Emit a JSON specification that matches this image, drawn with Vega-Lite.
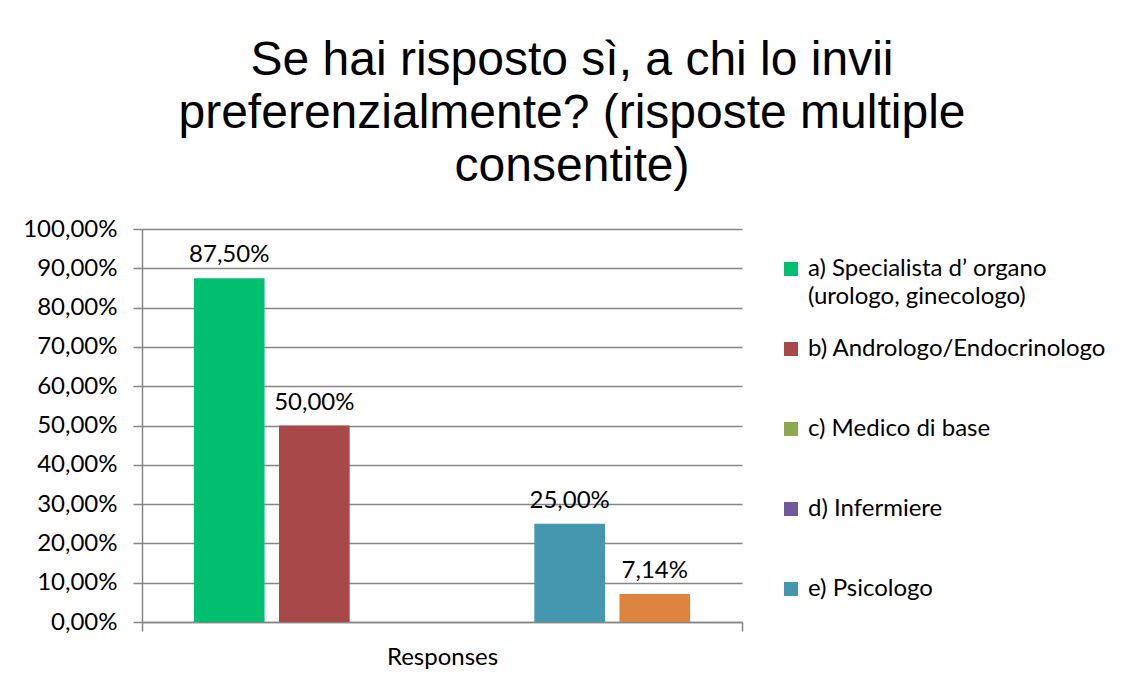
{
  "$schema": "https://vega.github.io/schema/vega-lite/v6.json",
  "autosize": {"type": "none"},
  "width": 600,
  "height": 393,
  "padding": {"left": 142, "top": 229, "right": 388, "bottom": 62},
  "background": "white",
  "title": {
    "text": ["Se hai risposto sì, a chi lo invii", "preferenzialmente? (risposte multiple", "consentite)"],
    "font": "Liberation Sans",
    "fontSize": 48,
    "fontWeight": "normal",
    "color": "#000000",
    "anchor": "middle",
    "frame": "group",
    "dx": 130,
    "offset": 26,
    "lineHeight": 53
  },
  "data": {
    "values": [
      {"group": "Responses", "cat": "a) Specialista d’ organo (urologo, ginecologo)", "value": 0.875},
      {"group": "Responses", "cat": "b) Andrologo/Endocrinologo", "value": 0.5},
      {"group": "Responses", "cat": "c) Medico di base", "value": 0},
      {"group": "Responses", "cat": "d) Infermiere", "value": 0},
      {"group": "Responses", "cat": "e) Psicologo", "value": 0.25},
      {"group": "Responses", "cat": "f) Altro", "value": 0.0714}
    ]
  },
  "encoding": {
    "x": {
      "field": "group",
      "type": "nominal",
      "scale": {"paddingInner": 0, "paddingOuter": 0},
      "axis": {
        "title": null,
        "labelAngle": 0,
        "labelFont": "Lato",
        "labelFontSize": 24,
        "labelColor": "#000000",
        "labelPadding": 14,
        "tickBand": "extent",
        "tickSize": 9,
        "tickColor": "#868686",
        "tickWidth": 1.5,
        "domainColor": "#868686",
        "domainWidth": 1.5
      }
    },
    "xOffset": {
      "field": "cat",
      "type": "nominal",
      "scale": {"paddingInner": 0.17, "paddingOuter": 0.61}
    },
    "y": {
      "field": "value",
      "type": "quantitative",
      "scale": {"domain": [0, 1], "nice": false},
      "axis": {
        "title": null,
        "values": [0, 0.1, 0.2, 0.3, 0.4, 0.5, 0.6, 0.7, 0.8, 0.9, 1],
        "format": ".2%",
        "labelFont": "Lato",
        "labelFontSize": 24,
        "labelColor": "#000000",
        "labelPadding": 16,
        "tickSize": 9,
        "tickColor": "#868686",
        "tickWidth": 1.5,
        "domainColor": "#868686",
        "domainWidth": 1.5,
        "gridColor": "#868686",
        "gridWidth": 1.5
      }
    }
  },
  "layer": [
    {
      "mark": {"type": "bar"},
      "encoding": {
        "color": {
          "field": "cat",
          "type": "nominal",
          "scale": {
            "domain": ["a) Specialista d’ organo (urologo, ginecologo)", "b) Andrologo/Endocrinologo", "c) Medico di base", "d) Infermiere", "e) Psicologo", "f) Altro"],
            "range": ["#00BF6F", "#A94848", "#8BA84F", "#71589A", "#4398B0", "#DD843E"]
          },
          "legend": {
            "title": null,
            "values": ["a) Specialista d’ organo (urologo, ginecologo)", "b) Andrologo/Endocrinologo", "c) Medico di base", "d) Infermiere", "e) Psicologo"],
            "orient": "none",
            "legendX": 637,
            "legendY": 28,
            "symbolType": "square",
            "symbolSize": 196,
            "symbolStrokeWidth": 0,
            "labelFont": "Lato",
            "labelFontSize": 24,
            "labelColor": "#000000",
            "labelLimit": 400,
            "labelOffset": 5,
            "rowPadding": 28,
            "labelExpr": "datum.label == 'a) Specialista d’ organo (urologo, ginecologo)' ? ['a) Specialista d’ organo', '(urologo, ginecologo)'] : [datum.label, ' ']"
          }
        }
      }
    },
    {
      "transform": [{"filter": "datum.value > 0"}],
      "mark": {"type": "text", "font": "Lato", "fontSize": 24, "color": "#000000", "baseline": "alphabetic", "dy": -16},
      "encoding": {
        "text": {"field": "value", "type": "quantitative", "format": ".2%"}
      }
    }
  ],
  "config": {
    "locale": {
      "number": {"decimal": ",", "thousands": ".", "grouping": [3], "currency": ["", " €"]}
    },
    "style": {"guide-label": {"lineHeight": 28}},
    "view": {"stroke": null}
  }
}
